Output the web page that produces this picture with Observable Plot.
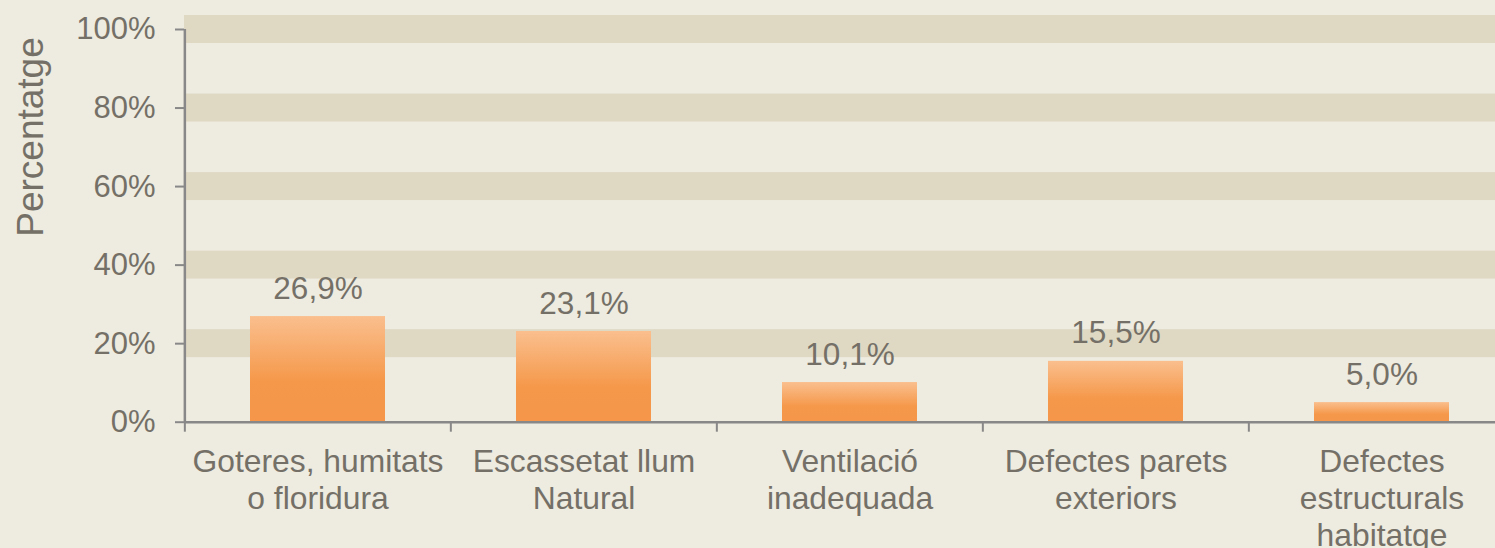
<!DOCTYPE html>
<html>
<head>
<meta charset="utf-8">
<script src="https://cdn.jsdelivr.net/npm/d3@7"></script>
<script src="https://cdn.jsdelivr.net/npm/@observablehq/plot@0.6"></script>
<style>
  html, body { margin: 0; padding: 0; background: #EEEBE0; overflow: hidden; }
  #chart svg { display: block; background: #EEEBE0; }
</style>
</head>
<body>
<div id="chart"></div>
<script>
// ---- data ----
const categories = [
  "Goteres, humitats\no floridura",
  "Escassetat llum\nNatural",
  "Ventilació\ninadequada",
  "Defectes parets\nexteriors",
  "Defectes\nestructurals\nhabitatge"
];
const values = [26.9, 23.1, 10.1, 15.5, 5.0];
const yTicks = [0, 20, 40, 60, 80, 100];
const bandCenters = [20, 40, 60, 80, 100];
const yLabel = "Percentatge";

// ---- layout ----
const W = 1495, H = 548;
const left = 184;
const step = 266.3;
const textColor = "#747067";
const axisColor = "#888888";
const bandColor = "#DFD9C4";
const fontSize = 31;
const bandHalf = 3.56;

const data = categories.map((c, i) => ({cat: c, v: values[i]}));
const fmt = v => v.toFixed(1).replace(".", ",") + "%";

const plot = Plot.plot({
  width: W,
  height: H,
  marginLeft: left,
  marginRight: 0,
  marginTop: 15,
  marginBottom: 126,
  style: {background: "#EEEBE0", fontFamily: "'Liberation Sans', Arial, sans-serif", color: textColor, overflow: "hidden"},
  x: {domain: categories, range: [left, left + step * categories.length], paddingInner: 0.493, paddingOuter: 0.2465, label: null},
  y: {domain: [0, 100], range: [421.7, 29], label: null},
  marks: [
    Plot.rectY(bandCenters, {y1: d => d - bandHalf, y2: d => d + bandHalf, fill: bandColor}),
    Plot.barY(data, {x: "cat", y: "v", fill: "url(#barGrad)"}),
    Plot.text(data, {x: "cat", y: "v", text: d => fmt(d.v), dy: -28, fill: textColor, fontSize: 31.5}),
    Plot.ruleY([0], {stroke: axisColor, strokeWidth: 2.5}),
    Plot.ruleX([categories[0]], {x: d => d, dx: -step / 2, y1: 0, y2: 100, stroke: axisColor, strokeWidth: 2.5}),
    Plot.ruleX(categories, {x: d => d, dx: -step / 2, y1: 0, y2: 0, insetBottom: -10, stroke: axisColor, strokeWidth: 2}),
    Plot.axisY({ticks: yTicks, tickFormat: d => d + "%", tickSize: 9, tickPadding: 20, stroke: axisColor, strokeWidth: 2, fill: textColor, fontSize: fontSize, label: null}),
    Plot.axisX({tickSize: 0, tickPadding: 23, fill: textColor, fontSize: 31.8, lineHeight: 1.17, lineAnchor: "top", label: null})
  ]
});

const svg = d3.select(plot);
const defs = svg.insert("defs", ":first-child");
const g = defs.append("linearGradient").attr("id", "barGrad")
  .attr("x1", 0).attr("y1", 0).attr("x2", 0).attr("y2", 1);
g.append("stop").attr("offset", 0).attr("stop-color", "#FABF8E");
g.append("stop").attr("offset", 0.62).attr("stop-color", "#F5984A");
g.append("stop").attr("offset", 1).attr("stop-color", "#F5964A");

svg.append("text")
  .attr("transform", "translate(43,137) rotate(-90)")
  .attr("text-anchor", "middle")
  .attr("fill", textColor)
  .attr("font-size", 37)
  .attr("font-family", "'Liberation Sans', Arial, sans-serif")
  .text(yLabel);

document.getElementById("chart").appendChild(plot);
</script>
</body>
</html>
